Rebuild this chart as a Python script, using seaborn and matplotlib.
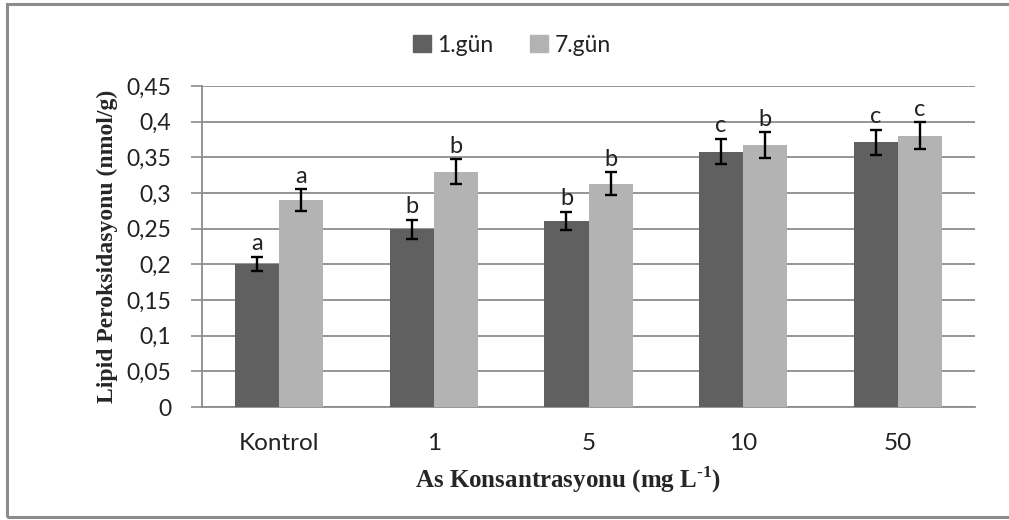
import matplotlib
matplotlib.use("Agg")
import matplotlib.pyplot as plt
import matplotlib.patches as mpatches
import numpy as np
import pandas as pd
import seaborn as sns
from matplotlib.container import BarContainer

# Data
categories = ["Kontrol", "1", "5", "10", "50"]
series_names = ["1.gün", "7.gün"]
day1_values = [0.200, 0.249, 0.261, 0.358, 0.371]
day7_values = [0.290, 0.330, 0.313, 0.367, 0.380]
day1_errors = [0.010, 0.013, 0.013, 0.018, 0.018]
day7_errors = [0.015, 0.017, 0.016, 0.018, 0.019]
day1_letters = ["a", "b", "b", "c", "c"]
day7_letters = ["a", "b", "b", "b", "c"]
y_ticks = [0, 0.05, 0.1, 0.15, 0.2, 0.25, 0.3, 0.35, 0.4, 0.45]
y_tick_labels = ["0", "0,05", "0,1", "0,15", "0,2", "0,25", "0,3", "0,35", "0,4", "0,45"]

df = pd.DataFrame({
    "Konsantrasyon": categories * 2,
    "Gün": [series_names[0]] * len(categories) + [series_names[1]] * len(categories),
    "Değer": day1_values + day7_values,
})

sns.set_theme(style="white")
plt.rcParams["font.family"] = ["Lato", "DejaVu Sans"]

colors = ["#606060", "#b3b3b3"]
grid_color = "#8c8c8c"

fig = plt.figure(figsize=(10.09, 5.20), dpi=100)
ax = fig.add_axes([202 / 1009, 1 - 407 / 520, (975 - 202) / 1009, (407 - 86) / 520])

sns.barplot(data=df, x="Konsantrasyon", y="Değer", hue="Gün", order=categories,
            hue_order=series_names, palette=colors, width=0.57, errorbar=None,
            saturation=1, ax=ax, zorder=3, linewidth=0)

# Error bars and significance letters on each bar
errs = [day1_errors, day7_errors]
letters = [day1_letters, day7_letters]
vals = [day1_values, day7_values]
bar_groups = [c for c in ax.containers if isinstance(c, BarContainer)]
for k, cont in enumerate(bar_groups):
    xs = [p.get_x() + p.get_width() / 2 for p in cont.patches]
    ax.errorbar(xs, vals[k], yerr=errs[k], fmt="none", ecolor="black",
                elinewidth=1.7, capsize=4, capthick=1.7, zorder=4)
    for x, v, e, t in zip(xs, vals[k], errs[k], letters[k]):
        ax.annotate(t, (x, v + e), xytext=(0, 2), textcoords="offset points",
                    ha="center", va="bottom", fontsize=17, color="#222222")

ax.set_ylim(0, 0.45)
ax.set_xlim(-0.5, len(categories) - 0.5)
ax.set_yticks(y_ticks)
ax.set_yticklabels(y_tick_labels)
ax.yaxis.grid(True, color=grid_color, linewidth=1.3, zorder=0)
ax.set_axisbelow(True)

# Category boundary ticks on the x axis
ax.set_xticks(np.arange(len(categories)))
ax.set_xticklabels(categories)
ax.tick_params(axis="x", length=0, labelsize=17.5, pad=19, colors="#222222")
ax.set_xticks(np.arange(-0.5, len(categories)), minor=True)
ax.tick_params(axis="x", which="minor", length=8, width=1.2, color=grid_color, direction="out")
ax.tick_params(axis="y", length=8, width=1.2, color=grid_color, direction="out",
               labelsize=16.5, pad=14, labelcolor="#222222", left=True)

for side in ["top", "right"]:
    ax.spines[side].set_visible(False)
for side in ["left", "bottom"]:
    ax.spines[side].set_color(grid_color)
    ax.spines[side].set_linewidth(1.3)

ax.set_xlabel("As Konsantrasyonu (mg L$^{\\mathregular{\u20101}}$)", family="Liberation Serif",
              fontweight="bold", fontsize=18)
ax.xaxis.label.set_va("center")
ax.xaxis.set_label_coords(0.4735, -0.227)
ax.set_ylabel("Lipid Peroksidasyonu (nmol/g)", family="Liberation Serif",
              fontweight="bold", fontsize=17, labelpad=6)

handles = [mpatches.Patch(color=c, label=n) for c, n in zip(colors, series_names)]
if ax.get_legend() is not None:
    ax.get_legend().remove()
fig.legend(handles=handles, loc="center", bbox_to_anchor=(512 / 1009, 1 - 45 / 520),
           ncol=2, frameon=False, fontsize=16.5, handlelength=0.75, handleheight=0.75,
           handletextpad=0.3, columnspacing=1.6, labelcolor="#222222")

# Outer frame
frame = mpatches.Rectangle((7 / 1009, 1 - 517 / 520), 1.05, (517 - 4) / 520,
                           transform=fig.transFigure, fill=False, edgecolor="#8c8c8c",
                           linewidth=2.2)
fig.patches.append(frame)

fig.savefig("out.png", dpi=100)
